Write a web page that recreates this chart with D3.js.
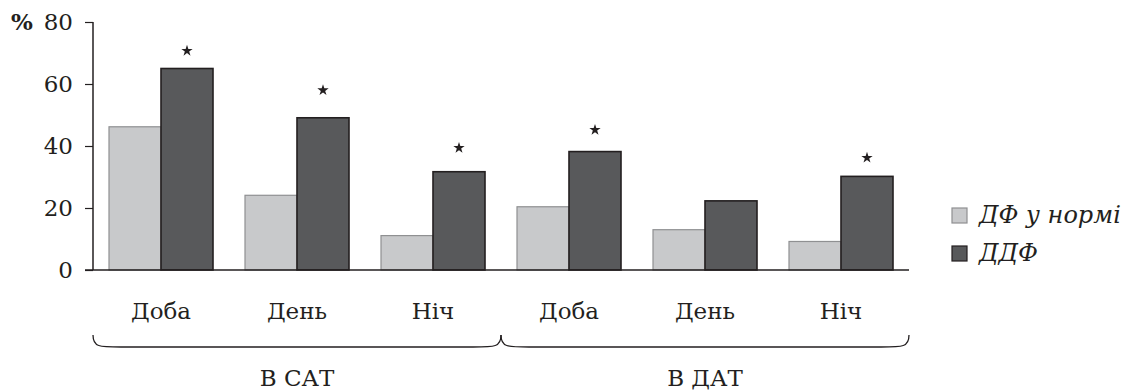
<!DOCTYPE html>
<html><head><meta charset="utf-8">
<script src="https://cdn.jsdelivr.net/npm/d3@7"></script>
<style>
html,body{margin:0;padding:0;background:#fff;}
svg{display:block;}
text{font-family:"DejaVu Serif",serif;fill:#231f20;}
</style></head>
<body>
<svg id="chart" width="1133" height="392"></svg>
<script>
const categories = ["Доба","День","Ніч","Доба","День","Ніч"];
const groups = ["В САТ","В ДАТ"];
const seriesNames = ["ДФ у нормі","ДДФ"];
const normalValues = [46.2, 24.1, 11.1, 20.4, 13.0, 9.2];
const ddfValues = [65.0, 49.1, 31.7, 38.2, 22.3, 30.2];
const starLevels = [70.7, 58.0, 39.4, 45.2, null, 36.2];
const yTicks = [0, 20, 40, 60, 80];

(function(){
const svg = d3.select("#chart");
const mLeft = 93, mRight = 909, mTop = 22, mBottom = 270;
const fillColors = ["#c8c9cb", "#58595b"];
const strokeColors = ["#8f9092", "#231f20"];
const FONT = "DejaVu Serif";
const FS = 23;

const x = d3.scaleBand().domain(d3.range(categories.length)).range([mLeft, mRight])
  .paddingInner(32/136).paddingOuter(16/136);
const xs = d3.scaleBand().domain([0,1]).range([0, x.bandwidth()]);
const y = d3.scaleLinear().domain([0, 80]).range([mBottom, mTop]);

const series = [normalValues, ddfValues];
series.forEach((vals, si) => {
  svg.append("g").selectAll("rect").data(vals).join("rect")
    .attr("x", (d,i) => x(i) + xs(si))
    .attr("y", d => y(d))
    .attr("width", xs.bandwidth())
    .attr("height", d => y(0) - y(d))
    .attr("fill", fillColors[si])
    .attr("stroke", strokeColors[si])
    .attr("stroke-width", si ? 1.6 : 1.2);
});

const starPath = d3.symbol().type(d3.symbolStar).size(40);
svg.append("g").selectAll("path").data(starLevels.map((d,i)=>({d,i})).filter(o=>o.d!=null)).join("path")
  .attr("d", starPath)
  .attr("transform", o => `translate(${x(o.i)+xs(1)+xs.bandwidth()/2},${y(o.d)})`)
  .attr("fill", "#231f20");

const yAxis = d3.axisLeft(y).tickValues(yTicks).tickSize(8).tickPadding(12);
const ga = svg.append("g").attr("transform", `translate(${mLeft},0)`).call(yAxis);
ga.select(".domain").attr("stroke", "#231f20").attr("stroke-width", 1.5).attr("d", `M0,${mTop}V${mBottom}`);
ga.selectAll(".tick line").attr("stroke", "#231f20").attr("stroke-width", 1.2);
ga.selectAll(".tick text").attr("font-family", FONT).attr("font-size", FS).attr("fill", "#231f20");

svg.append("line").attr("x1", mLeft - 8).attr("x2", mRight).attr("y1", y(0)).attr("y2", y(0))
  .attr("stroke", "#231f20").attr("stroke-width", 1.5);

svg.append("text").attr("x", 11).attr("y", y(80)).attr("dy", "0.35em")
  .attr("font-size", 23).attr("font-weight", "bold").text("%");

svg.append("g").selectAll("text").data(categories).join("text")
  .attr("x", (d,i) => x(i) + x.bandwidth()/2)
  .attr("y", 319).attr("text-anchor", "middle").attr("font-size", FS).text(d => d);

groups.forEach((g, gi) => {
  const x0 = mLeft + gi * 3 * x.step();
  const x1 = x0 + 3 * x.step();
  const yt = 335, yb = 347;
  svg.append("path")
    .attr("d", `M${x0},${yt} C${x0},${yb} ${x0+6},${yb} ${x0+28},${yb} L${x1-28},${yb} C${x1-6},${yb} ${x1},${yb} ${x1},${yt}`)
    .attr("fill", "none").attr("stroke", "#231f20").attr("stroke-width", 1.3);
  svg.append("text").attr("x", (x0+x1)/2).attr("y", 386).attr("text-anchor", "middle")
    .attr("font-size", FS).text(g);
});

const legY = [215, 253];
seriesNames.forEach((n, si) => {
  svg.append("rect").attr("x", 952).attr("y", legY[si]-7).attr("width", 15).attr("height", 15)
    .attr("fill", fillColors[si]).attr("stroke", strokeColors[si]).attr("stroke-width", 1.2);
  svg.append("text").attr("x", 979).attr("y", legY[si]+8).attr("font-size", 24)
    .attr("font-style", "italic").text(n);
});
})();
</script>
</body></html>
